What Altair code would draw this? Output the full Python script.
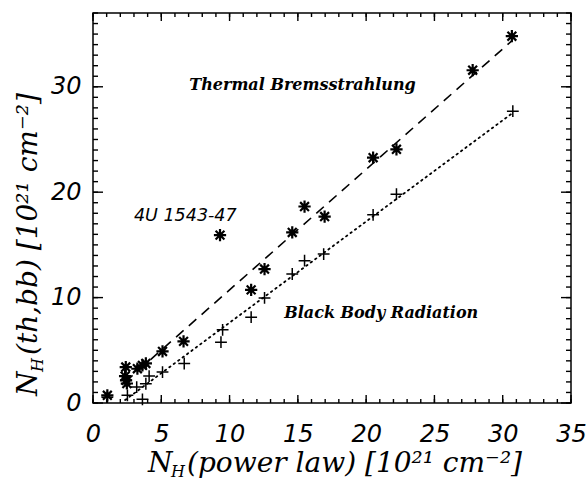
import altair as alt
import pandas as pd

# Column densities in units of 10^21 cm^-2.
# x: power-law fits; y: thermal bremsstrahlung (th) or black-body (bb) fits.
th_x = [1.05, 2.35, 2.42, 2.48, 2.40, 3.25, 3.62, 3.87, 5.09, 6.63,
        11.58, 12.56, 14.59, 15.49, 16.96, 20.51, 22.22, 27.80, 30.67]
th_y = [0.73, 2.55, 2.15, 1.85, 3.41, 3.25, 3.57, 3.75, 4.89, 5.85,
        10.73, 12.71, 16.18, 18.64, 17.69, 23.27, 24.07, 31.57, 34.80]

bb_x = [1.05, 2.52, 3.62, 3.20, 3.87, 4.11, 5.09, 6.68, 9.37, 9.49,
        11.58, 12.56, 14.59, 15.49, 16.89, 20.51, 22.22, 30.74]
bb_y = [0.55, 0.73, 0.35, 1.51, 1.83, 2.55, 2.93, 3.75, 5.77, 6.94,
        8.14, 9.97, 12.24, 13.50, 14.13, 17.85, 19.81, 27.69]

# 4U 1543-47 (thermal value), kept out of the linear fit
src_x = [9.30]
src_y = [15.93]

fit_range = [2.35, 30.7]

x_domain = [0.0, 35.0]
y_domain = [0.0, 37.0]
x_major = [0.0, 5.0, 10.0, 15.0, 20.0, 25.0, 30.0, 35.0]
y_major = [0.0, 10.0, 20.0, 30.0]
x_minor = [float(v) for v in range(0, 36)]
y_minor = [float(v) for v in range(0, 38)]

W, H = 478, 390

xs = alt.Scale(domain=x_domain, nice=False, zero=False)
ys = alt.Scale(domain=y_domain, nice=False, zero=False)

xaxis = alt.Axis(values=x_major, ticks=False, domain=False, grid=False, title=None,
                 labelFont="DejaVu Sans", labelFontStyle="italic", labelFontSize=24,
                 labelColor="black", labelPadding=19, labelFlush=False, labelOverlap=False)
yaxis = alt.Axis(values=y_major, ticks=False, domain=False, grid=False, title=None,
                 labelFont="DejaVu Sans", labelFontStyle="italic", labelFontSize=24,
                 labelColor="black", labelPadding=12, labelFlush=False, labelOverlap=False)


def X(field):
    return alt.X(field, type="quantitative", scale=xs, axis=xaxis)


def Y(field):
    return alt.Y(field, type="quantitative", scale=ys, axis=yaxis)


ASTERISK = ("M-1,0L1,0M0,-1L0,1M-0.72,-0.72L0.72,0.72M-0.72,0.72L0.72,-0.72")
PLUS = "M-1,0L1,0M0,-1L0,1"

th_df = pd.DataFrame({"x": th_x, "y": th_y})
bb_df = pd.DataFrame({"x": bb_x, "y": bb_y})
src_df = pd.DataFrame({"x": src_x, "y": src_y})

th_pts = alt.Chart(th_df).mark_point(shape=ASTERISK, size=150, filled=False,
                                     color="black", strokeWidth=2.2, opacity=1).encode(
    x=X("x"), y=Y("y"))
src_pts = alt.Chart(src_df).mark_point(shape=ASTERISK, size=150, filled=False,
                                       color="black", strokeWidth=2.2, opacity=1).encode(
    x=X("x"), y=Y("y"))
bb_pts = alt.Chart(bb_df).mark_point(shape=PLUS, size=140, filled=False,
                                     color="black", strokeWidth=1.5, opacity=1).encode(
    x=X("x"), y=Y("y"))

th_fit = alt.Chart(th_df).transform_regression(
    "x", "y", extent=fit_range).mark_line(
    color="black", strokeWidth=1.6, strokeDash=[10, 7]).encode(x=X("x"), y=Y("y"))
bb_fit = alt.Chart(bb_df).transform_regression(
    "x", "y", extent=fit_range).mark_line(
    color="black", strokeWidth=1.8, strokeDash=[1.5, 4], strokeCap="round").encode(
    x=X("x"), y=Y("y"))

# Inward frame ticks drawn as short rule segments between two scaled positions;
# tick lengths are given in pixels and converted to data units of each axis.
x_per_px = (x_domain[1] - x_domain[0]) / W
y_per_px = (y_domain[1] - y_domain[0]) / H


def xticks(values, length):
    n = len(values)
    d = length * y_per_px
    lo, hi = y_domain
    frames = [pd.DataFrame({"x": values, "y": [lo] * n, "y2": [lo + d] * n}),
              pd.DataFrame({"x": values, "y": [hi] * n, "y2": [hi - d] * n})]
    return [alt.Chart(f).mark_rule(color="black", strokeWidth=1.4, opacity=1).encode(
        x=X("x"), y=Y("y"), y2=alt.Y2("y2")) for f in frames]


def yticks(values, length):
    n = len(values)
    d = length * x_per_px
    lo, hi = x_domain
    frames = [pd.DataFrame({"y": values, "x": [lo] * n, "x2": [lo + d] * n}),
              pd.DataFrame({"y": values, "x": [hi] * n, "x2": [hi - d] * n})]
    return [alt.Chart(f).mark_rule(color="black", strokeWidth=1.4, opacity=1).encode(
        y=Y("y"), x=X("x"), x2=alt.X2("x2")) for f in frames]


tick_layers = xticks(x_minor, 4) + xticks(x_major, 8) + yticks(y_minor, 5) + yticks(y_major, 10)

# In-plot labels, placed in data coordinates
notes = pd.DataFrame({
    "x": [7.05, 14.0],
    "y": [30.15, 8.5],
    "label": ["Thermal Bremsstrahlung", "Black Body Radiation"],
})
note_text = alt.Chart(notes).mark_text(
    align="left", baseline="middle", font="DejaVu Serif", fontStyle="italic",
    fontWeight="bold", fontSize=16, color="black").encode(
    x=X("x"), y=Y("y"), text="label:N")

src_note = alt.Chart(pd.DataFrame({"x": [3.0], "y": [17.7], "label": ["4U 1543-47"]})).mark_text(
    align="left", baseline="middle", font="DejaVu Sans", fontStyle="italic",
    fontSize=17.5, color="black").encode(x=X("x"), y=Y("y"), text="label:N")


def piece(text, px, py, size, angle=0):
    return alt.Chart(pd.DataFrame({"label": [text]})).mark_text(
        align="left", baseline="alphabetic", font="DejaVu Serif", fontStyle="italic",
        fontSize=size, angle=angle, color="black").encode(
        x=alt.value(px), y=alt.value(py), text="label:N")


x_title = [
    piece("N", 55, 459, 28),
    piece("H", 78, 464, 16),
    piece("(power law) [10²¹ cm⁻²]", 94, 459, 28),
]
y_title = [
    piece("N", -56, 383, 28, 270),
    piece("H", -50, 359, 16, 270),
    piece("(th,bb) [10²¹ cm⁻²]", -56, 342, 28, 270),
]

chart = alt.layer(
    th_fit, bb_fit, th_pts, src_pts, bb_pts, *tick_layers, note_text, src_note,
    *x_title, *y_title
).properties(
    width=W, height=H,
    padding={"left": 93, "top": 13, "right": 15, "bottom": 76},
    autosize=alt.AutoSizeParams(type="none"),
    background="white",
).configure_view(stroke="black", strokeWidth=1.5)

chart.save("out.html", embed_options={"renderer": "svg", "actions": False})
